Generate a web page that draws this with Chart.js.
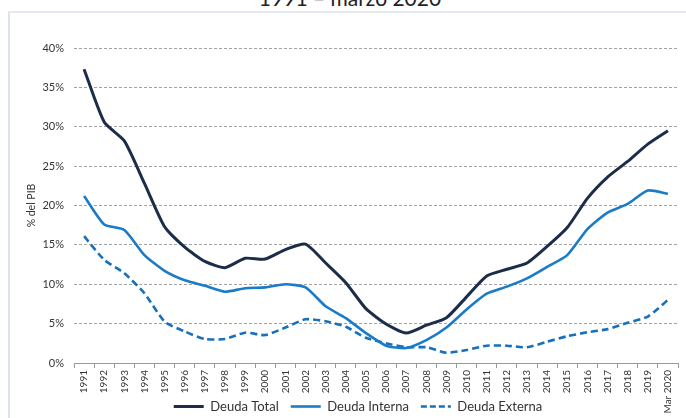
<!DOCTYPE html>
<html>
<head>
<meta charset="utf-8">
<script src="https://cdn.jsdelivr.net/npm/chart.js@4/dist/chart.umd.min.js"></script>
<style>
  html, body { margin: 0; padding: 0; width: 686px; height: 418px; overflow: hidden; background: #fff; }
  #frame { position: absolute; left: 8px; top: 11px; width: 700px; height: 420px;
           border-left: 2px solid #dde3ec; border-top: 2px solid #e6eaf0; box-sizing: border-box; }
  #title { position: absolute; left: 0; width: 700px; top: -13px; text-align: center;
           font-family: Lato, "Open Sans", sans-serif; font-size: 21px; color: #222; line-height: 1; }
  #wrap { position: absolute; left: 0; top: 0; width: 686px; height: 448px; }
</style>
</head>
<body>
<div id="frame"></div>
<div id="title">1991 – marzo 2020</div>
<div id="wrap"><canvas id="c" width="686" height="448"></canvas></div>
<script>
const categories = ["1991","1992","1993","1994","1995","1996","1997","1998","1999","2000",
  "2001","2002","2003","2004","2005","2006","2007","2008","2009","2010",
  "2011","2012","2013","2014","2015","2016","2017","2018","2019","Mar 2020"];
const deudaTotal = [37.3,30.6,28.2,22.8,17.3,14.7,12.9,12.1,13.3,13.2,
  14.4,15.1,12.7,10.2,6.9,4.95,3.8,4.8,5.75,8.4,
  11.05,11.9,12.7,14.8,17.2,20.9,23.6,25.6,27.8,29.5];
const deudaInterna = [21.2,17.6,16.9,13.7,11.7,10.5,9.8,9.05,9.5,9.6,
  10.0,9.6,7.2,5.7,3.8,2.2,1.9,2.9,4.5,6.8,
  8.8,9.7,10.75,12.2,13.7,17.0,19.1,20.2,21.9,21.5];
const deudaExterna = [16.1,13.1,11.4,8.85,5.25,4.0,3.05,3.05,3.85,3.55,
  4.5,5.55,5.3,4.6,3.2,2.5,2.0,2.0,1.3,1.65,
  2.2,2.2,2.0,2.7,3.4,3.9,4.3,5.1,5.9,8.0];
const yTicks = [0,5,10,15,20,25,30,35,40];

const FONT = 'Lato, "Open Sans", sans-serif';
const LEGEND_PAD = 12;

const legendPlacer = {
  id: 'legendPlacer',
  afterLayout(chart) {
    const lg = chart.legend;
    if (!lg) return;
    const h = lg.height;
    lg.top = 406 - LEGEND_PAD - 6;
    lg.bottom = lg.top + h;
    lg.left += 14;
    lg.right += 14;
  }
};

new Chart(document.getElementById('c'), {
  type: 'line',
  data: {
    labels: categories,
    datasets: [
      { label: 'Deuda Total', data: deudaTotal, borderColor: '#1c2d4a', backgroundColor: '#1c2d4a',
        borderWidth: 3, pointRadius: 0, tension: 0.2, fill: false },
      { label: 'Deuda Interna', data: deudaInterna, borderColor: '#1a7bc9', backgroundColor: '#1a7bc9',
        borderWidth: 2.6, pointRadius: 0, tension: 0.2, fill: false },
      { label: 'Deuda Externa', data: deudaExterna, borderColor: '#1670bd', backgroundColor: '#1670bd',
        borderWidth: 2.6, borderDash: [7, 4], pointRadius: 0, tension: 0.2, fill: false }
    ]
  },
  plugins: [legendPlacer],
  options: {
    responsive: false,
    animation: false,
    layout: { padding: { left: 10, right: 8, top: 48, bottom: 0 } },
    plugins: {
      legend: {
        position: 'bottom',
        labels: {
          usePointStyle: true, pointStyle: 'line', pointStyleWidth: 30, boxHeight: 12,
          padding: LEGEND_PAD, color: '#333', font: { family: FONT, size: 13 },
          generateLabels: (chart) => {
            const items = Chart.defaults.plugins.legend.labels.generateLabels(chart);
            items.forEach((it) => {
              const ds = chart.data.datasets[it.datasetIndex];
              it.lineDash = ds.borderDash ? [6, 3] : [];
              it.strokeStyle = ds.borderColor;
              it.lineWidth = ds.borderWidth;
            });
            return items;
          }
        }
      },
      tooltip: { enabled: false }
    },
    scales: {
      x: {
        offset: true,
        grid: { display: true, offset: true, drawOnChartArea: false, drawTicks: true, tickLength: 5, color: '#999' },
        border: { display: true, color: '#999', width: 1 },
        ticks: { autoSkip: false, maxRotation: 90, minRotation: 90, padding: 2, color: '#333',
                 font: { family: FONT, size: 10 } },
        afterFit: (s) => { s.height = 50; s.paddingLeft = 0; s.paddingRight = 0; }
      },
      y: {
        min: 0, max: 40,
        afterBuildTicks: (s) => { s.ticks = yTicks.map(v => ({ value: v })); },
        grid: { color: '#a3a3a3', lineWidth: 1, drawTicks: false },
        border: { display: false, dash: [3, 2] },
        ticks: { padding: 10, color: '#333', font: { family: FONT, size: 11 },
                 callback: (v) => v + '%' },
        title: { display: true, text: '% del PIB', color: '#333', font: { family: FONT, size: 10.5 },
                 padding: { top: 15, bottom: 0 } },
        afterFit: (s) => { s.width = 64; }
      }
    }
  }
});
</script>
</body>
</html>
